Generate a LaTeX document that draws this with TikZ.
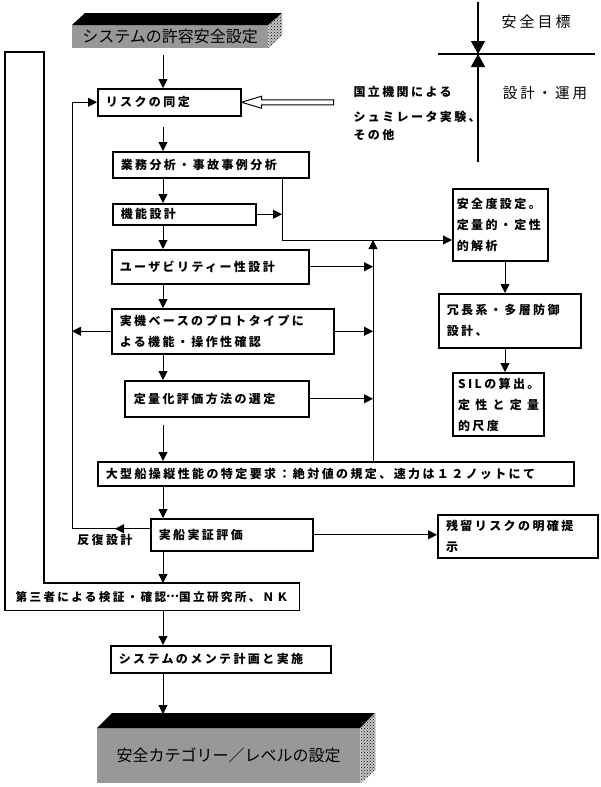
\documentclass[tikz,border=0pt]{standalone}
\usepackage{fontspec}
\newfontfamily\jp{Noto Sans CJK JP}[LetterSpace=20]
\newfontfamily\jpplain{Noto Sans CJK JP}
\usetikzlibrary{arrows.meta, calc, positioning, patterns}
\definecolor{faceg}{RGB}{152,152,152}

\tikzset{
  box/.style={draw, line width=1.5pt, anchor=north west, inner xsep=8pt, inner ysep=0pt,
    align=left, font=\jp\bfseries\fontsize{12}{21}\selectfont},
  slab/.style={fill=faceg, anchor=north west, inner sep=0pt, font=\jpplain\fontsize{16}{16}\selectfont},
  arr/.style={line width=1pt, -{Triangle[length=9pt,width=9pt]}},
  bigarr/.style={line width=1.5pt, -{Triangle[length=13pt,width=14pt]}},
}

\begin{document}
\begin{tikzpicture}[x=1pt, y=-1pt]
  \useasboundingbox (0,0) rectangle (600,787);
  \coordinate (col) at (163,0);
  \coordinate (fb) at (72,0);
  \coordinate (bus) at (373,0);
  \coordinate (j) at (282,240);
  \coordinate (rc) at (505,0);
  \coordinate (bar) at (44,52);

  % top slab
  \node[slab, minimum width=196pt, minimum height=23pt] (sys) at (72,25) {システムの許容安全設定};
  \fill (sys.north west) -- ++(13,-12) -- ++(197,0) -- (sys.north east) -- cycle;
  \fill[gray!45] (sys.north east) -- ++(14,-12) -- ++(0,22) -- (sys.south east) -- cycle;
  \fill[pattern=crosshatch dots] (sys.north east) -- ++(14,-12) -- ++(0,22) -- (sys.south east) -- cycle;

  % main column
  \node[box, text width=127pt, minimum height=27pt] (risk) at (97,88) {リスクの同定};
  \node[box, text width=180pt, minimum height=26pt] (gyomu) at (112,151) {業務分析・事故事例分析};
  \node[box, text width=127pt, minimum height=21pt] (kino) at (112,203) {機能設計};
  \node[box, text width=181pt, minimum height=34pt] (user) at (111,249) {ユーザビリティー性設計};
  \node[box, text width=206pt, minimum height=45pt] (jikki) at (111,308) {実機ベースのプロトタイプに\\よる機能・操作性確認};
  \node[box, text width=166pt, inner xsep=9pt, minimum height=36pt] (teiryo) at (124,380) {定量化評価方法の選定};
  \node[box, text width=460pt, minimum height=24pt] (ogata) at (97,461) {大型船操縦性能の特定要求：絶対値の規定、速力は１２ノットにて};
  \node[box, text width=146pt, minimum height=32pt] (jissen) at (150,518) {実船実証評価};
  \node[box, draw=none, text width=273pt, inner xsep=10pt, minimum height=26pt,
    font=\jp\bfseries\fontsize{11.6}{21}\selectfont] (third) at (5,583) {第三者による検証・確認\raisebox{3.5pt}{…}国立研究所、ＮＫ};
  \node[box, text width=204pt, minimum height=27pt] (mente) at (110,645) {システムのメンテ計画と実施};

  % bar joined to the third-party box
  \draw[line width=1.5pt] (third.north east) -- (third.south east) -- (third.south west)
    -- (5,52) -- (bar) -- (bar |- third.north) -- cycle;

  % right column
  \node[box, text width=87pt, inner xsep=4pt, minimum height=72pt] (anzendo) at (452,188) {安全度設定。\\定量的・定性\\的解析};
  \node[box, text width=126pt, minimum height=54pt] (joucho) at (438,293) {冗長系・多層防御\\設計、};
  \node[box, line width=2pt, text width=81pt, inner xsep=5pt, minimum height=63pt] (sil) at (452,372) {SILの算出。\\定\hfill 性\hfill と\hfill 定\hfill 量\\的尺度};
  \node[box, line width=2.2pt, text width=144pt, minimum height=43pt] (zanryu) at (437,514) {残留リスクの明確提\\示};

  % bottom slab
  \node[slab, minimum width=263pt, minimum height=55pt] (goal) at (97,728) {安全カテゴリー／レベルの設定};
  \fill (goal.north west) -- ++(15,-15) -- ++(263,0) -- (goal.north east) -- cycle;
  \fill[gray!45] (goal.north east) -- ++(15,-15) -- ++(0,57) -- (goal.south east) -- cycle;
  \fill[pattern=crosshatch dots] (goal.north east) -- ++(15,-15) -- ++(0,57) -- (goal.south east) -- cycle;

  % down arrows
  \draw[arr] ([yshift=-7pt]sys.south -| col) -- (risk.north -| col);
  \draw[arr] ([yshift=-10pt]risk.south -| col) -- (gyomu.north -| col);
  \draw[arr] (gyomu.south -| col) -- (kino.north -| col);
  \draw[arr] (kino.south -| col) -- (user.north -| col);
  \draw[arr] (user.south -| col) -- (jikki.north -| col);
  \draw[arr] (jikki.south -| col) -- (teiryo.north -| col);
  \draw[arr] ([yshift=-7pt]teiryo.south -| col) -- (ogata.north -| col);
  \draw[arr] (ogata.south -| col) -- (jissen.north -| col);
  \draw[arr] (jissen.south -| col) -- (third.north -| col);
  \draw[arr] (third.south -| col) -- (mente.north -| col);
  \draw[arr] (mente.south -| col) -- ($(goal.north -| col)+(0,-14)$);

  % to the safety analysis
  \draw[arr] (gyomu.south -| j) -- (j) -- (anzendo.west |- j);
  \draw[arr] (kino.east) -- (kino.east -| j);
  \draw[arr] (ogata.north -| bus) -- (j -| bus);
  \draw[arr] (user.east) -- (user.east -| bus);
  \draw[arr] (jikki.east) -- (jikki.east -| bus);
  \draw[arr] (teiryo.east) -- (teiryo.east -| bus);
  \draw[arr] (anzendo.south -| rc) -- (joucho.north -| rc);
  \draw[arr] (joucho.south -| rc) -- (sil.north -| rc);
  \draw[arr] (jissen.east) -- (zanryu.west |- jissen.east);

  % feedback loop
  \draw[arr] (jikki.west) -- (jikki.west -| fb);
  \draw[arr] ([yshift=6pt]jissen.west) -- ++(-35,0);
  \draw[arr] ([yshift=6pt]jissen.west) -| (fb |- risk.west) -- (risk.west);
  \node[anchor=east, font=\jp\bfseries\fontsize{12}{12}\selectfont] (iter) at (136,540) {反復設計};

  % external input
  \draw[line width=1pt] (risk.east) -- ++(20,-6) -- ++(0,3.5) -- ++(72,0) -- ++(0,5) -- ++(-72,0) -- ++(0,3.5) -- cycle;
  \node[anchor=west, align=left, font=\jp\bfseries\fontsize{12}{20}\selectfont] (inst) at (350,113)
    {国立機関による\\[5pt]シュミレータ実験、\\[-2pt] その他};

  % target / design cross
  \coordinate (cross) at (478,54);
  \draw[line width=1.5pt] (438,54) -- (595,54);
  \draw[bigarr] (478,2) -- (cross);
  \draw[bigarr] (478,162) -- (cross);
  \node[font=\jp\fontsize{15}{15}\selectfont] (target) at (536,22) {安全目標};
  \node[font=\jp\fontsize{14.5}{14.5}\selectfont] (design) at (545,93) {設計・運用};
\end{tikzpicture}
\end{document}
